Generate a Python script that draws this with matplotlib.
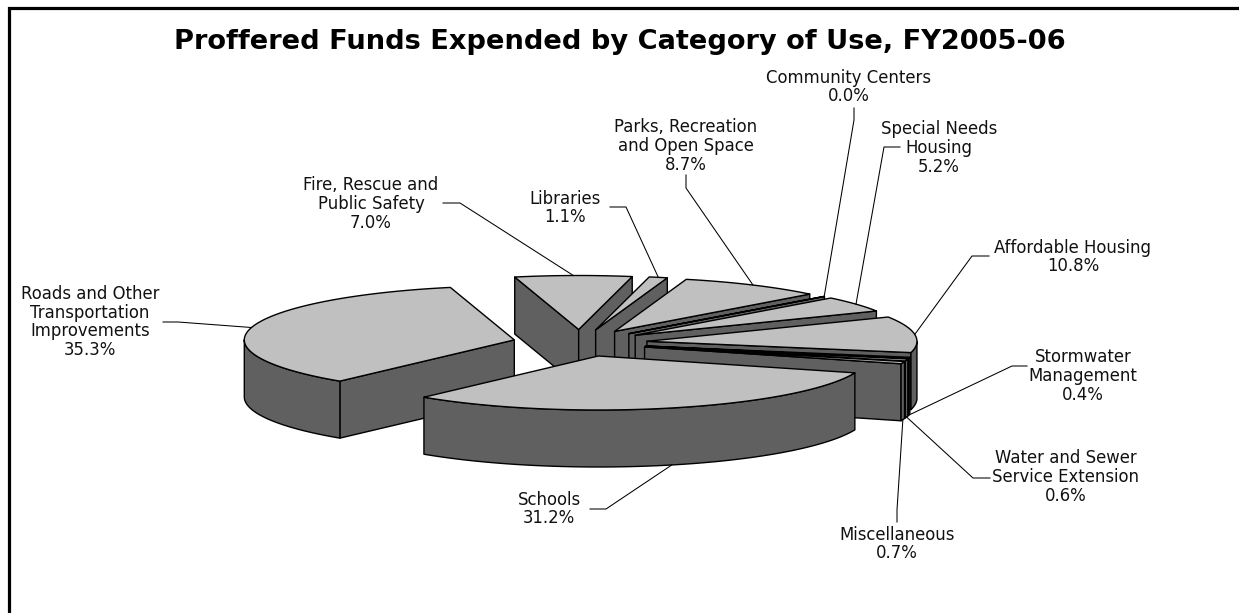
import numpy as np
import matplotlib
matplotlib.use("Agg")
import matplotlib.pyplot as plt

# clockwise from the start angle
categories = [
    "Affordable Housing",
    "Stormwater\nManagement",
    "Water and Sewer\nService Extension",
    "Miscellaneous",
    "Schools",
    "Roads and Other\nTransportation\nImprovements",
    "Fire, Rescue and\nPublic Safety",
    "Libraries",
    "Parks, Recreation\nand Open Space",
    "Community Centers",
    "Special Needs\nHousing",
]
# printed percentages
printed = ["10.8%", "0.4%", "0.6%", "0.7%", "31.2%", "35.3%", "7.0%", "1.1%", "8.7%", "0.0%", "5.2%"]
shares = [10.8, 0.4, 0.6, 0.7, 31.2, 35.1, 7.0, 1.1, 8.6, 0.04, 4.7]

# layout, in reference pixels
label_x = [1073, 1083, 1066, 897, 549, 90, 371, 565, 686, 849, 939]
label_y = [257, 376, 477, 544, 509, 322, 204, 208, 146, 87, 148]
leader_start = [(989, 256), (1027, 366), (990, 478), (897, 522), (590, 509), (163, 322),
                (443, 203), (610, 207), (686, 175), (854, 108), (900, 147)]
leader_elbow = [(972, 256), (1012, 366), (973, 478), (897, 510), (606, 509), (178, 322),
                (460, 203), (626, 207), (686, 188), (854, 120), (884, 147)]

CENTER = (580, 343)
RX, RY = 270, 54
DEPTH = 57
EXPLODE = 0.25
START = -26.7
TOP = "#c0c0c0"
SIDE = "#606060"
LW = 1.0

fig = plt.figure(figsize=(12.39, 6.13), dpi=100)
ax = fig.add_axes([0, 0, 1, 1])
ax.set_xlim(0, 1239)
ax.set_ylim(613, 0)
ax.axis("off")

# outer frame, only top and left show up in the original
ax.plot([9, 9, 1239], [613, 7.5, 7.5], color="black", lw=2.3, solid_joinstyle="miter")

total = sum(shares)
edges = START + np.cumsum([0] + shares) * 360 / total


def arc(tip, a0, a1):
    t = np.radians(np.linspace(a0, a1, max(int(abs(a1 - a0)) * 2, 2)))
    return tip[0] + RX * np.cos(t), tip[1] + RY * np.sin(t)


def shape(xs, ys, color):
    ax.fill(xs, ys, facecolor=color, edgecolor="black", lw=LW, joinstyle="round")


def front_ranges(a0, a1):
    # parts of the rim that face the viewer
    out = []
    for k in range(-1, 2):
        lo, hi = max(a0, 360 * k), min(a1, 360 * k + 180)
        if hi > lo:
            out.append((lo, hi))
    return out


wedges = []
for i, val in enumerate(shares):
    a0, a1 = edges[i], edges[i + 1]
    mid = np.radians((a0 + a1) / 2)
    tip = (CENTER[0] + EXPLODE * RX * np.cos(mid), CENTER[1] + EXPLODE * RY * np.sin(mid))
    wedges.append((np.sin(mid), i, a0, a1, mid, tip))

anchors = {}
for sm, i, a0, a1, mid, tip in sorted(wedges, key=lambda w: w[0]):
    # radial walls
    for ang, show in ((a0, np.cos(np.radians(a0)) < 0), (a1, np.cos(np.radians(a1)) > 0)):
        if show:
            ex = tip[0] + RX * np.cos(np.radians(ang))
            ey = tip[1] + RY * np.sin(np.radians(ang))
            shape([tip[0], ex, ex, tip[0]], [tip[1], ey, ey + DEPTH, tip[1] + DEPTH], SIDE)
    # rim
    for lo, hi in front_ranges(a0, a1):
        xs, ys = arc(tip, lo, hi)
        shape(np.r_[xs, xs[::-1]], np.r_[ys, ys[::-1] + DEPTH], SIDE)
    # top
    xs, ys = arc(tip, a0, a1)
    shape(np.r_[tip[0], xs], np.r_[tip[1], ys], TOP)
    anchors[i] = (
        tip[0] + RX * np.cos(mid),
        tip[1] + RY * np.sin(mid) + (DEPTH if sm > 0 else 0),
    )

for i, name in enumerate(categories):
    ax.text(label_x[i], label_y[i], f"{name}\n{printed[i]}", ha="center", va="center",
            fontsize=11.9, linespacing=1.07, color="#111111", family="DejaVu Sans")
    pts = [leader_start[i], leader_elbow[i], anchors[i]]
    ax.plot([p[0] for p in pts], [p[1] for p in pts], color="black", lw=0.75)

ax.text(620, 42, "Proffered Funds Expended by Category of Use, FY2005-06", ha="center", va="center",
        fontsize=19.6, fontweight="bold", color="black", family="DejaVu Sans")

fig.savefig("out.png", dpi=100)
